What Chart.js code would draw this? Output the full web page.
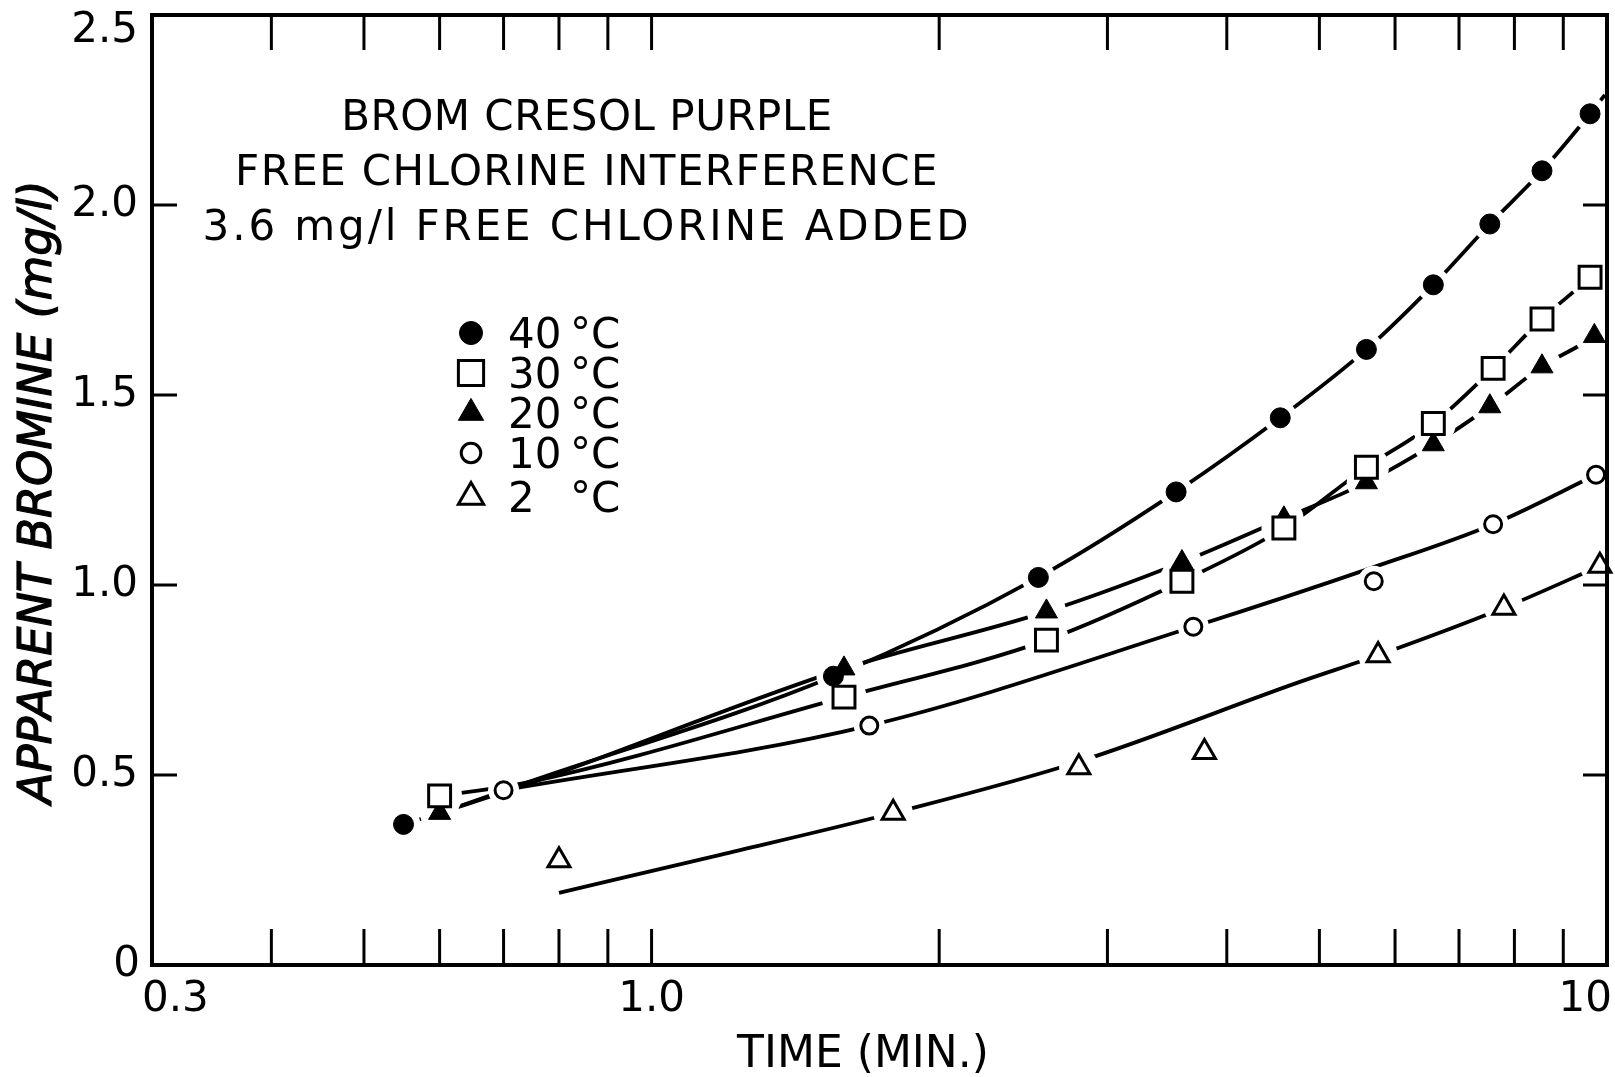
<!DOCTYPE html>
<html lang="en">
<head>
<meta charset="utf-8">
<title>Brom cresol purple</title>
<script src="https://cdn.jsdelivr.net/npm/chart.js@4.4.1/dist/chart.umd.min.js"></script>
<style>
    html, body { margin: 0; padding: 0; background: #fff; overflow: hidden; }
    canvas { display: block; }
</style>
</head>
<body>
<canvas id="grafico" width="1615" height="1077"></canvas>
<script>
// pontos: tempo (min) x bromo aparente (mg/l)
const tempo40 = [0.55, 1.55, 2.54, 3.54, 4.55, 5.6, 6.58, 7.54, 8.55, 9.6]
const bromo40 = [0.37, 0.76, 1.02, 1.245, 1.44, 1.62, 1.79, 1.95, 2.09, 2.24]
const tempo30 = [0.6, 1.59, 2.59, 3.59, 4.59, 5.6, 6.58, 7.6, 8.55, 9.6]
const bromo30 = [0.445, 0.705, 0.855, 1.01, 1.15, 1.31, 1.425, 1.57, 1.70, 1.81]
const tempo20 = [0.6, 1.59, 2.59, 3.59, 4.59, 5.6, 6.58, 7.54, 8.55, 9.7]
const bromo20 = [0.40, 0.78, 0.93, 1.06, 1.175, 1.27, 1.37, 1.47, 1.575, 1.655]
const tempo10 = [0.7, 1.69, 3.69, 5.7, 7.6, 9.74]
const bromo10 = [0.46, 0.63, 0.89, 1.01, 1.16, 1.29]
const tempo2 = [0.8, 1.79, 2.8, 3.79, 5.76, 7.8, 9.83]
const bromo2 = [0.275, 0.40, 0.52, 0.56, 0.815, 0.94, 1.05]

// curvas tracadas a mao na figura
const curvaT40 = [0.55, 0.6, 0.74, 1.55, 2.54, 3.54, 4.55, 5.6, 6.58, 7.54, 8.55, 9.6, 9.95]
const curvaB40 = [0.37, 0.40, 0.48, 0.76, 1.02, 1.245, 1.44, 1.62, 1.79, 1.95, 2.09, 2.24, 2.29]
const curvaT30 = [0.6, 0.74, 1.59, 2.59, 3.59, 4.59, 5.6, 6.58, 7.6, 8.55, 9.6, 9.95]
const curvaB30 = [0.445, 0.48, 0.705, 0.855, 1.01, 1.15, 1.31, 1.425, 1.57, 1.70, 1.81, 1.85]
const curvaT20 = [0.6, 0.74, 1.59, 2.59, 3.59, 4.59, 5.6, 6.58, 7.54, 8.55, 9.7, 9.95]
const curvaB20 = [0.40, 0.475, 0.78, 0.93, 1.06, 1.175, 1.27, 1.37, 1.47, 1.575, 1.655, 1.68]
const curvaT10 = [0.7, 1.69, 3.69, 5.7, 7.6, 9.74]
const curvaB10 = [0.46, 0.63, 0.89, 1.047, 1.16, 1.29]
const curvaT2 = [0.8, 1.18, 1.79, 2.8, 4.77, 5.76, 7.8, 9.83]
const curvaB2 = [0.19, 0.29, 0.40, 0.535, 0.745, 0.815, 0.94, 1.05]

// eixos
const xMarcas = [0.4, 0.5, 0.6, 0.7, 0.8, 0.9, 1, 2, 3, 4, 5, 6, 7, 8, 9]
const xRotulos = [0.3, 1, 10]
const xTextos = ['0.3', '1.0', '10']
const yMarcas = [0.5, 1, 1.5, 2]
const yRotulos = [0, 0.5, 1, 1.5, 2, 2.5]
const yTextos = ['0', '0.5', '1.0', '1.5', '2.0', '2.5']

const titulo = ['BROM CRESOL PURPLE', 'FREE CHLORINE INTERFERENCE', '3.6 mg/l FREE CHLORINE ADDED']
const legendaNum = ['40', '30', '20', '10', '2']

const fonte = '"DejaVu Sans", sans-serif'

const series = [
    { t: tempo40, b: bromo40, ct: curvaT40, cb: curvaB40, estilo: 'circle', cheio: true, r: 10 },
    { t: tempo30, b: bromo30, ct: curvaT30, cb: curvaB30, estilo: 'rect', cheio: false, r: 15.5 },
    { t: tempo20, b: bromo20, ct: curvaT20, cb: curvaB20, estilo: 'triangle', cheio: true, r: 12.7 },
    { t: tempo10, b: bromo10, ct: curvaT10, cb: curvaB10, estilo: 'circle', cheio: false, r: 8.5 },
    { t: tempo2, b: bromo2, ct: curvaT2, cb: curvaB2, estilo: 'triangle', cheio: false, r: 12.7 }
]

const pts = (xs, ys) => xs.map((v, i) => ({ x: v, y: ys[i] }))

let datasets = []
series.forEach(s => {
    datasets.push({
        data: pts(s.ct, s.cb),
        showLine: true,
        pointRadius: 0,
        borderColor: '#000',
        borderWidth: 3.8,
        cubicInterpolationMode: 'monotone',
        order: 3
    })
    // "buraco" branco em volta de cada ponto, como no desenho original
    datasets.push({
        data: pts(s.t, s.b),
        pointStyle: 'circle',
        pointRadius: s.r + 7,
        pointBackgroundColor: '#fff',
        pointBorderWidth: 0,
        order: 2
    })
    datasets.push({
        data: pts(s.t, s.b),
        pointStyle: s.estilo,
        pointRadius: s.r,
        pointBackgroundColor: s.cheio ? '#000' : '#fff',
        pointBorderColor: '#000',
        pointBorderWidth: s.cheio ? 1 : 3,
        clip: false,
        order: 1
    })
})

function traco(ctx, x1, y1, x2, y2) {
    ctx.beginPath()
    ctx.moveTo(x1, y1)
    ctx.lineTo(x2, y2)
    ctx.stroke()
}

const moldura = {
    id: 'moldura',
    afterDatasetsDraw(chart) {
        const { ctx, chartArea: a, scales: { x, y } } = chart
        ctx.save()
        ctx.strokeStyle = '#000'
        ctx.fillStyle = '#000'

        ctx.lineWidth = 3
        xMarcas.forEach(v => {
            const px = x.getPixelForValue(v)
            traco(ctx, px, a.bottom, px, a.bottom - 36)
            traco(ctx, px, a.top, px, a.top + 35)
        })
        yMarcas.forEach(v => {
            const py = y.getPixelForValue(v)
            traco(ctx, a.left, py, a.left + 25, py)
            traco(ctx, a.right, py, a.right - 24, py)
        })
        ctx.lineWidth = 4
        ctx.strokeRect(a.left, a.top, a.right - a.left, a.bottom - a.top)

        // rotulos dos eixos
        ctx.font = '42px ' + fonte
        ctx.textBaseline = 'middle'
        ctx.textAlign = 'right'
        yRotulos.forEach((v, i) => {
            let py = y.getPixelForValue(v)
            if (v === 2.5) py += 16
            ctx.fillText(yTextos[i], a.left - (v === 0 ? 12 : 14), py)
        })
        const ult = xRotulos.length - 1
        xRotulos.forEach((v, i) => {
            const px = x.getPixelForValue(v)
            ctx.textAlign = i === 0 ? 'left' : (i === ult ? 'right' : 'center')
            ctx.fillText(xTextos[i], px + (i === 0 ? -10 : (i === ult ? 5 : 0)), a.bottom + 35)
        })

        ctx.textBaseline = 'alphabetic'
        ctx.textAlign = 'center'
        ctx.font = '44px ' + fonte
        ctx.fillText('TIME (MIN.)', 863, 1067)

        ctx.save()
        ctx.translate(51, 492)
        ctx.rotate(-Math.PI / 2)
        ctx.font = 'italic 46px ' + fonte
        ctx.lineWidth = 1.2
        ctx.fillText('APPARENT BROMINE (mg/l)', 0, 0)
        ctx.strokeText('APPARENT BROMINE (mg/l)', 0, 0)
        ctx.restore()

        // titulo dentro do grafico (letras mais espacadas, como no original)
        ctx.font = '42px ' + fonte
        const espaco = ['0.5px', '1.4px', '2.9px']
        titulo.forEach((linha, i) => {
            ctx.letterSpacing = espaco[i]
            ctx.fillText(linha, 587, 130 + i * 55)
        })
        ctx.letterSpacing = '0px'

        // legenda
        const linhasY = [333, 373, 413, 453, 497]
        series.forEach((s, i) => {
            const ly = linhasY[i]
            ctx.fillStyle = s.cheio ? '#000' : '#fff'
            ctx.strokeStyle = '#000'
            ctx.lineWidth = s.cheio ? 1 : 3
            Chart.helpers.drawPoint(ctx, {
                pointStyle: s.estilo,
                radius: s.r * 1.15,
                rotation: 0,
                borderWidth: s.cheio ? 1 : 3
            }, 471, ly)
            ctx.fillStyle = '#000'
            ctx.textAlign = 'left'
            ctx.fillText(legendaNum[i], 508, ly + 15)
            ctx.fillText('°C', 570, ly + 15)
        })
        ctx.restore()
    }
}

new Chart(document.getElementById('grafico'), {
    type: 'scatter',
    data: { datasets: datasets },
    options: {
        responsive: false,
        animation: false,
        events: [],
        layout: { autoPadding: false, padding: { top: 15, right: 8, left: 0, bottom: 0 } },
        plugins: {
            legend: { display: false },
            tooltip: { enabled: false }
        },
        scales: {
            x: {
                type: 'logarithmic',
                min: 0.3,
                max: 10,
                ticks: { display: false },
                grid: { display: false },
                border: { display: false },
                afterFit: (s) => { s.height = 112 }
            },
            y: {
                min: 0,
                max: 2.5,
                ticks: { display: false },
                grid: { display: false },
                border: { display: false },
                afterFit: (s) => { s.width = 152 }
            }
        }
    },
    plugins: [moldura]
})
</script>
</body>
</html>
